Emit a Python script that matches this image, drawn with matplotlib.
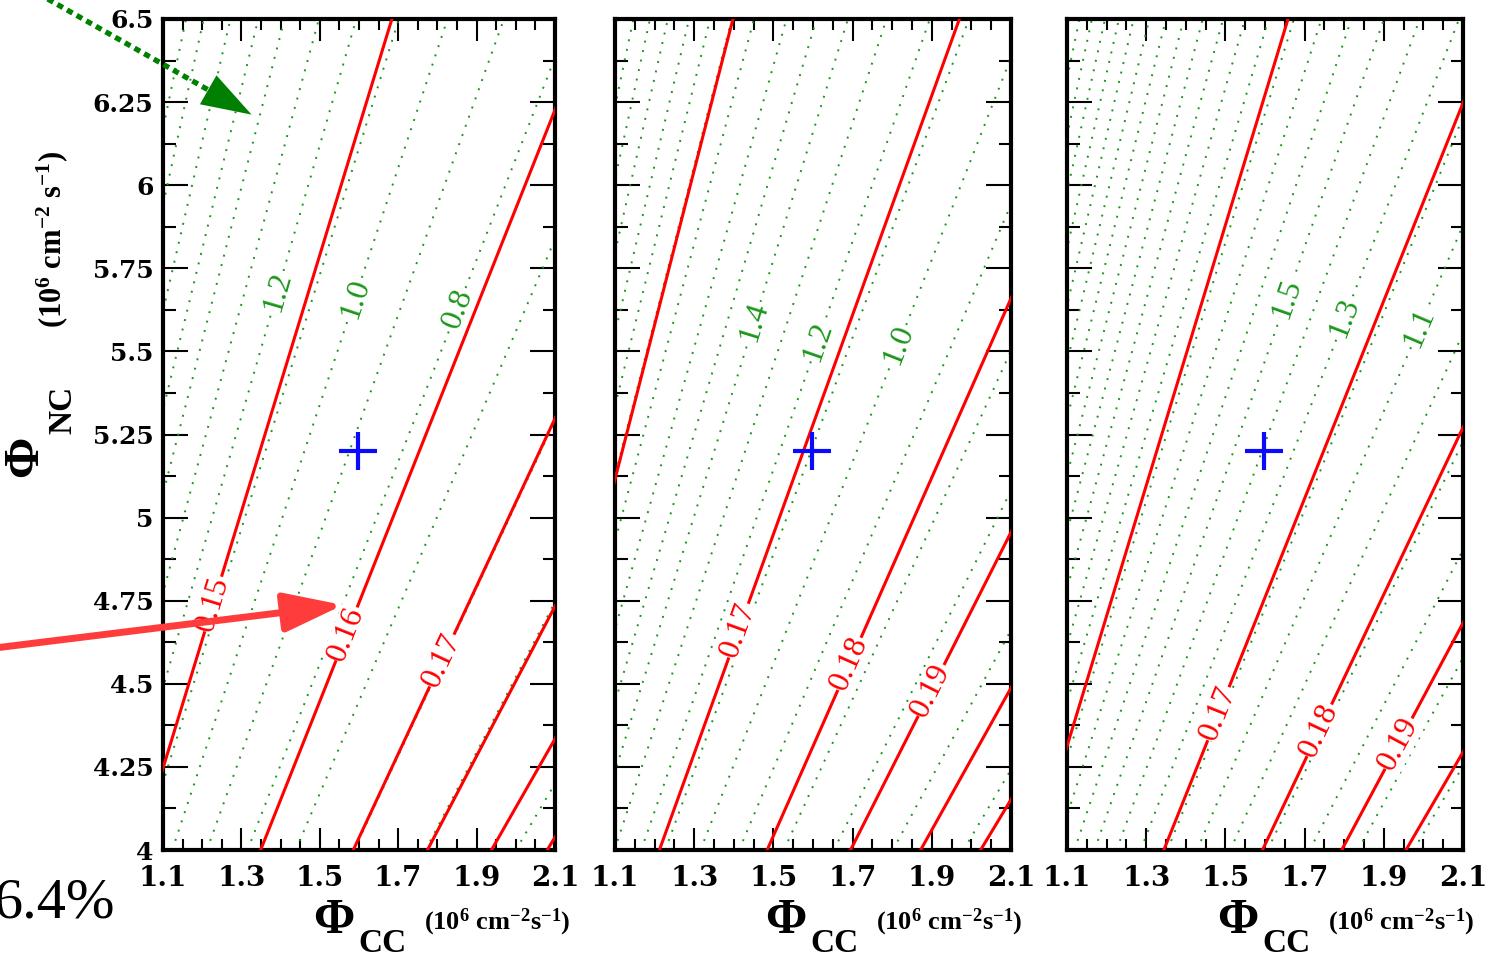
import numpy as np
import matplotlib.pyplot as plt
from matplotlib.lines import Line2D
from matplotlib.patches import FancyArrowPatch
from matplotlib.ticker import MultipleLocator

plt.rcParams['font.family'] = ['Liberation Serif', 'DejaVu Serif']
plt.rcParams['mathtext.fontset'] = 'custom'
plt.rcParams['mathtext.rm'] = 'Liberation Serif:bold'
plt.rcParams['mathtext.it'] = 'Liberation Serif:bold'
plt.rcParams['mathtext.bf'] = 'Liberation Serif:bold'

W, H = 1498, 958

x_range = (1.1, 2.1)
y_range = (4.0, 6.5)
x_ticks = [1.1, 1.3, 1.5, 1.7, 1.9, 2.1]
y_ticks = [4.0, 4.25, 4.5, 4.75, 5.0, 5.25, 5.5, 5.75, 6.0, 6.25, 6.5]
y_tick_labels = ['4', '4.25', '4.5', '4.75', '5', '5.25', '5.5', '5.75', '6', '6.25', '6.5']

best_fit = (1.597, 5.2)

# every contour in these panels is a straight ray through the origin,
# so each one is kept as its slope phi_NC / phi_CC
red_levels = [
    [0.15, 0.16, 0.17, 0.18, 0.19, 0.20],
    [0.16, 0.17, 0.18, 0.19, 0.20, 0.21],
    [0.16, 0.17, 0.18, 0.19, 0.20],
]
red_slope = [
    [3.86, 2.965, 2.523, 2.254, 2.064, 1.923],
    [4.65, 3.30, 2.695, 2.36, 2.137, 1.977],
    [3.92, 2.975, 2.51, 2.23, 2.045],
]
# labelled red contours and the height of their label
red_label_lvl = [[0.15, 0.16, 0.17], [0.17, 0.18, 0.19], [0.17, 0.18, 0.19]]
red_label_y = [[4.74, 4.65, 4.57], [4.66, 4.56, 4.48], [4.41, 4.36, 4.32]]

green_levels = [
    [0.3, 0.4, 0.5, 0.6, 0.7, 0.8, 0.9, 1.0, 1.1, 1.2, 1.3, 1.4, 1.5, 1.6, 1.7, 1.8, 1.9],
    [0.5, 0.6, 0.7, 0.8, 0.9, 1.0, 1.1, 1.2, 1.3, 1.4, 1.5, 1.6, 1.7, 1.8, 1.9, 2.0,
     2.1, 2.2, 2.3, 2.4],
    [0.6, 0.7, 0.8, 0.9, 1.0, 1.1, 1.2, 1.3, 1.4, 1.5, 1.6, 1.7, 1.8, 1.9, 2.0, 2.1,
     2.2, 2.3, 2.4, 2.5, 2.6, 2.7, 2.8, 2.9, 3.0, 3.1],
]
green_slope = [
    [1.74, 2.00, 2.26, 2.52, 2.78, 3.04, 3.30, 3.56, 3.82, 4.08, 4.34, 4.61, 4.84,
     5.11, 5.40, 5.61, 5.90],
    [2.02, 2.22, 2.42, 2.62, 2.83, 3.04, 3.26, 3.43, 3.64, 3.85, 4.04, 4.24, 4.48,
     4.66, 4.85, 5.05, 5.27, 5.47, 5.67, 5.87],
    [2.025, 2.18, 2.335, 2.49, 2.645, 2.80, 2.955, 3.11, 3.265, 3.42, 3.575, 3.73,
     3.885, 4.04, 4.195, 4.35, 4.505, 4.66, 4.815, 4.97, 5.125, 5.28, 5.435, 5.59,
     5.745, 5.90],
]
green_label_lvl = [[1.2, 1.0, 0.8], [1.4, 1.2, 1.0], [1.5, 1.3, 1.1]]
green_label_y = [[5.68, 5.66, 5.63], [5.59, 5.53, 5.52], [5.66, 5.60, 5.57]]

# axes boxes in pixels: left, right (top 19, bottom 850)
panel_px = [(163, 555), (615, 1011), (1067, 1463)]

RED = '#ff0000'
GREEN = '#1a961a'


def fig_frac(x, y):
    return x / W, 1 - y / H


def draw_ray(ax, slope, **kw):
    ax.plot([y_range[0] / slope, y_range[1] / slope], list(y_range), **kw)


def label_ray(ax, slope, y, text, color, zorder):
    ax.text(y / slope, y, text, color=color, fontsize=23,
            rotation=np.degrees(np.arctan(slope)), transform_rotates_text=True,
            rotation_mode='anchor', ha='center', va='center', zorder=zorder,
            bbox=dict(fc='white', ec='none', pad=0.5))


fig = plt.figure(figsize=(W / 100, H / 100), dpi=100)

for i, (l, r) in enumerate(panel_px):
    x0, y0 = fig_frac(l, 850)
    x1, y1 = fig_frac(r, 19)
    ax = fig.add_axes([x0, y0, x1 - x0, y1 - y0])
    ax.set_xlim(*x_range)
    ax.set_ylim(*y_range)

    for s in green_slope[i]:
        draw_ray(ax, s, color=GREEN, lw=1.4, dashes=(1, 4), zorder=2)
    for lvl, y in zip(green_label_lvl[i], green_label_y[i]):
        s = green_slope[i][green_levels[i].index(lvl)]
        label_ray(ax, s, y, f'{lvl:.1f}', GREEN, 2.5)

    for s in red_slope[i]:
        draw_ray(ax, s, color=RED, lw=2.2, zorder=3)
    for lvl, y in zip(red_label_lvl[i], red_label_y[i]):
        s = red_slope[i][red_levels[i].index(lvl)]
        label_ray(ax, s, y, f'{lvl:.2f}', RED, 4)

    ax.plot(*best_fit, marker='+', color='#0a0aff', ms=27, mew=3, zorder=6)

    for sp in ax.spines.values():
        sp.set_linewidth(3)
    ax.set_xticks(x_ticks)
    ax.set_xticklabels([f'{v:.1f}' for v in x_ticks])
    ax.xaxis.set_minor_locator(MultipleLocator(0.05))
    ax.set_yticks(y_ticks)
    ax.set_yticklabels(y_tick_labels if i == 0 else [])
    ax.yaxis.set_minor_locator(MultipleLocator(0.125))
    ax.tick_params(which='both', direction='in', top=True, right=True,
                   width=1.5, color='black')
    ax.tick_params(axis='x', which='major', length=16, pad=11)
    ax.tick_params(axis='x', which='minor', length=8)
    ax.tick_params(axis='y', which='major', length=18, pad=7)
    ax.tick_params(axis='y', which='minor', length=9)
    for t in ax.get_xticklabels():
        t.set_fontfamily('DejaVu Serif')
        t.set_fontweight('bold')
        t.set_fontsize(20)
    for t in ax.get_yticklabels():
        t.set_fontfamily('DejaVu Serif')
        t.set_fontweight('bold')
        t.set_fontsize(18)

    # x axis title
    fig.text(*fig_frac(l + 171, 933), r'$\Phi$', fontsize=36, ha='center',
             va='baseline')
    fig.text(*fig_frac(l + 195, 952), 'CC', fontsize=24, fontweight='bold',
             ha='left', va='baseline')
    fig.text(*fig_frac(l + 261, 922), r'(10$^{6}$ cm$^{-2}$s$^{-1}$)',
             fontsize=19, fontweight='bold', ha='left', va='center')

# y axis title
fig.text(*fig_frac(50, 458), r'$\Phi$', fontsize=36, rotation=90,
         ha='right', va='center')
fig.text(*fig_frac(63, 410), 'NC', fontsize=24, fontweight='bold', rotation=90,
         ha='center', va='center')
fig.text(*fig_frac(52, 240), r'(10$^{6}$ cm$^{-2}$ s$^{-1}$)', fontsize=22,
         fontweight='bold', rotation=90, ha='center', va='center')

fig.text(*fig_frac(-7, 918), '6.4%', fontsize=42, ha='left', va='baseline')

# green dotted pointer, top left
fig.add_artist(Line2D([-30 / W, 212 / W], [1 + 45 / H, 1 - 92 / H],
                      transform=fig.transFigure, color='#008000', lw=3.8,
                      dashes=(1.2, 0.9)))
fig.add_artist(FancyArrowPatch(fig_frac(205, 88), fig_frac(254, 116),
                               transform=fig.transFigure, color='#008000',
                               arrowstyle='-|>,head_length=36,head_width=12',
                               mutation_scale=1, lw=0))
# red pointer, left
fig.add_artist(FancyArrowPatch(fig_frac(-5, 648), fig_frac(343, 605),
                               transform=fig.transFigure, color='#ff3c3c',
                               arrowstyle='-|>,head_length=36,head_width=12',
                               mutation_scale=1, lw=5, shrinkA=0, shrinkB=0))

fig.savefig('out.png', dpi=100)
